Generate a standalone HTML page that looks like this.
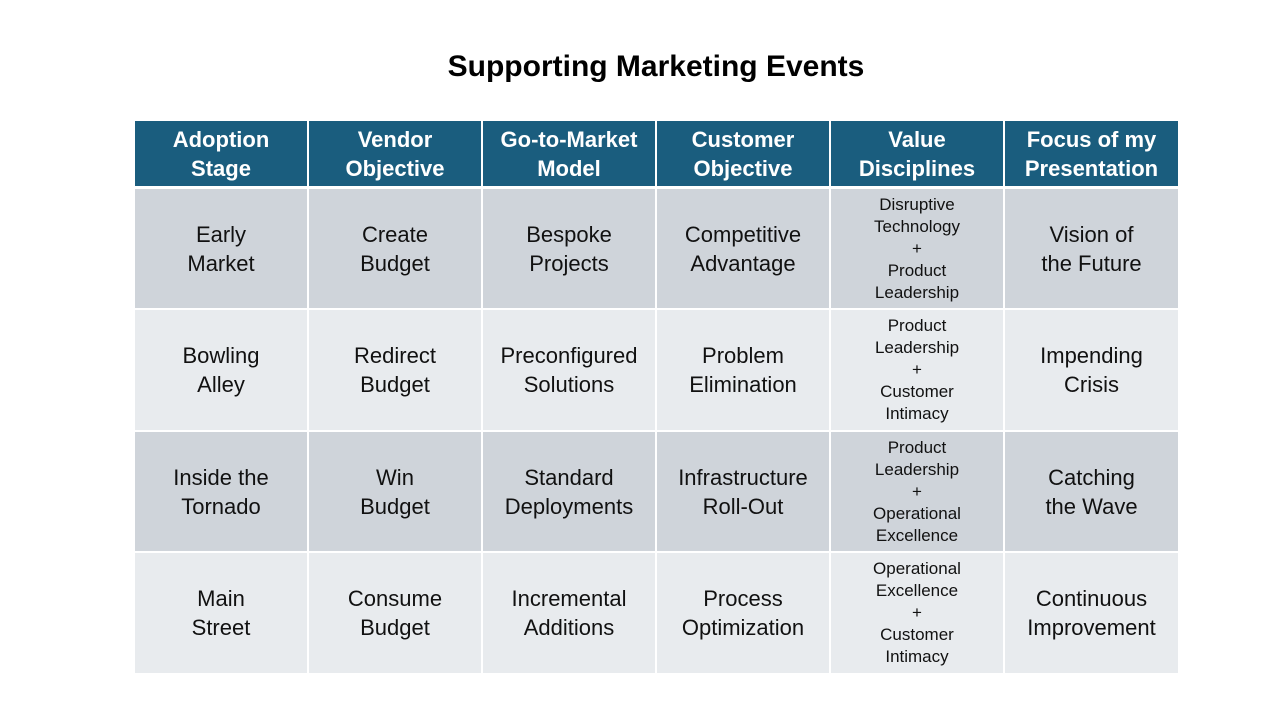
<!DOCTYPE html>
<html><head><meta charset="utf-8"><style>
body{margin:0;width:1280px;height:720px;background:#fff;font-family:"Liberation Sans",sans-serif;position:relative;overflow:hidden}
.t{position:absolute;left:0;width:1312px;top:50px;text-align:center;font-weight:bold;font-size:30px;color:#000}
.c{position:absolute;display:flex;align-items:center;justify-content:center;text-align:center;color:#111;font-size:22px;line-height:29px;box-sizing:border-box}
.h{background:#1a5d7e;color:#fff;font-weight:bold}
.r1{background:#cfd4da}.r2{background:#e8ebee}
.s{font-size:17px;line-height:22px}
</style></head><body>
<div class="t">Supporting Marketing Events</div>
<div id="g"></div>
<script>
var xs=[135,309,483,657,831,1005,1178];
var ys=[[121,186],[189,308],[310,430],[432,551],[553,673]];
var d=[["Adoption<br>Stage","Vendor<br>Objective","Go-to-Market<br>Model","Customer<br>Objective","Value<br>Disciplines","Focus of my<br>Presentation"],
["Early<br>Market","Create<br>Budget","Bespoke<br>Projects","Competitive<br>Advantage","Disruptive<br>Technology<br>+<br>Product<br>Leadership","Vision of<br>the Future"],
["Bowling<br>Alley","Redirect<br>Budget","Preconfigured<br>Solutions","Problem<br>Elimination","Product<br>Leadership<br>+<br>Customer<br>Intimacy","Impending<br>Crisis"],
["Inside the<br>Tornado","Win<br>Budget","Standard<br>Deployments","Infrastructure<br>Roll-Out","Product<br>Leadership<br>+<br>Operational<br>Excellence","Catching<br>the Wave"],
["Main<br>Street","Consume<br>Budget","Incremental<br>Additions","Process<br>Optimization","Operational<br>Excellence<br>+<br>Customer<br>Intimacy","Continuous<br>Improvement"]];
var h="";
for(var r=0;r<5;r++)for(var c=0;c<6;c++){
var cls=r==0?"h":(r%2?"r1":"r2");if(r>0&&c==4)cls+=" s";
var x=xs[c],w=xs[c+1]-xs[c]-(c<5?2:0);
h+='<div class="c '+cls+'" style="left:'+x+'px;top:'+ys[r][0]+'px;width:'+w+'px;height:'+(ys[r][1]-ys[r][0])+'px">'+'<div>'+d[r][c]+'</div></div>';}
document.getElementById("g").innerHTML=h;
</script>
</body></html>
